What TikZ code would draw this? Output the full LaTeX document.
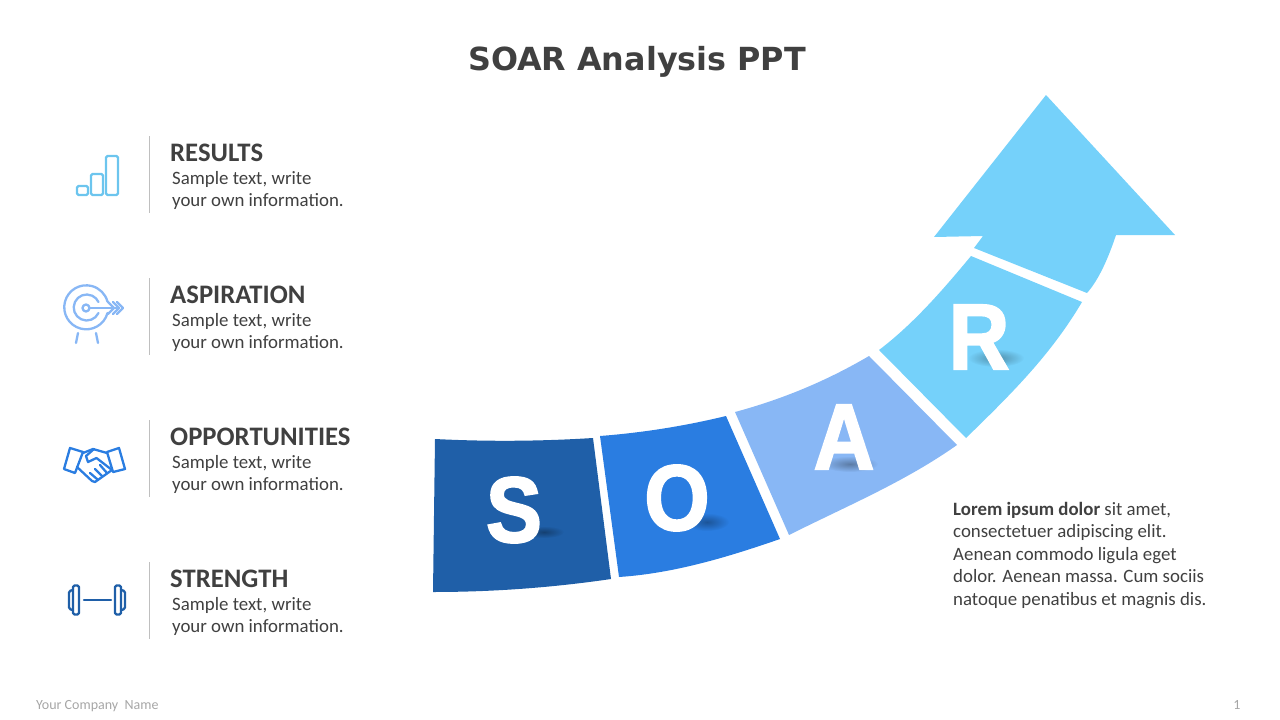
\documentclass[tikz,border=0pt]{standalone}
\usepackage{fontspec}
\setmainfont{Carlito}
\newfontfamily\titlefont{DejaVu Sans}
\newfontfamily\letterfont[FakeStretch=0.9,BoldFeatures={FakeStretch=0.9,FakeBold=2.2}]{Liberation Sans}
\usetikzlibrary{fadings}
\definecolor{inkgray}{HTML}{404040}
\definecolor{rulegray}{HTML}{BFBFBF}
\definecolor{footgray}{HTML}{A6A6A6}
\definecolor{sblue}{HTML}{1F5FA8}
\definecolor{oblue}{HTML}{2A7DE1}
\definecolor{ablue}{HTML}{88B7F5}
\definecolor{rblue}{HTML}{75D1FA}
\definecolor{barblue}{HTML}{6CC5EE}
\tikzfading[name=letterfade,inner color=transparent!68,outer color=transparent!100]
\tikzset{
  headtext/.style={anchor=base west,inner sep=0pt,text=inkgray,font=\fontsize{26.7}{26.7}\selectfont\bfseries},
  bodytext/.style={anchor=base west,inner sep=0pt,text=inkgray,align=left,font=\fontsize{18.85}{22.5}\selectfont},
  bigletter/.style={anchor=base,inner sep=0pt,text=white,font=\fontsize{93}{93}\letterfont\bfseries},
  foottext/.style={inner sep=0pt,text=footgray,font=\fontsize{14}{14}\selectfont},
  iconline/.style={line width=2.3pt,line cap=round,line join=round},
  lettershadow/.style={fill=black,path fading=letterfade}
}
\begin{document}
\begin{tikzpicture}[x=1pt,y=-1pt]
  \useasboundingbox (0,0) rectangle (1280,720);
  \draw (637,70) node (title) [anchor=base,inner sep=0pt,text=inkgray,font=\fontsize{31.8}{31.8}\titlefont\bfseries] {SOAR Analysis PPT};
  % left column
  \foreach \n/\y/\head in {1/136/RESULTS,2/278/ASPIRATION,3/420/OPPORTUNITIES,4/562/STRENGTH} {
    \draw[rulegray,line width=0.8pt] (149.5,\y)--++(0,76.5);
    \draw (170,\y+25) node (head\n) [headtext] {\head};
    \draw (172,\y+70.6) node (body\n) [bodytext] {Sample text, write\\your own information.};
  }
  % results icon
  \draw[barblue,iconline,rounded corners=1.5pt] (77,186) rectangle (88,195);
  \draw[barblue,iconline,rounded corners=1.5pt] (91,174) rectangle (103,195);
  \draw[barblue,iconline,rounded corners=1.5pt] (106,156) rectangle (118,195);
  % aspiration icon
  \draw[ablue,iconline] (107.5,313) arc (15:345:22);
  \draw[ablue,iconline] (98.5,313) arc (25:335:13);
  \draw[ablue,iconline] (86,308) circle (3.5);
  \draw[ablue,iconline] (89,308)--(119,308);
  \foreach \x in {108,113,117}
    \draw[ablue,iconline] (\x,302)--(\x+6,308)--(\x,314);
  \draw[ablue,iconline] (78,333)--(76,343);
  \draw[ablue,iconline] (96,333)--(98,343);
  % opportunities icon
  \draw[oblue,iconline] (70,448)--(83,452)--(75,473)--(64,469)--cycle;
  \draw[oblue,iconline] (119,448)--(107,452)--(113,472)--(125,469)--cycle;
  \draw[oblue,iconline] (83,453)--(93,449)--(100,451)--(107,453);
  \draw[oblue,iconline] (94,449)--(86,456)--(88,462)--(96.5,458)--(112,470);
  \draw[oblue,iconline] (77,467)--(92,481)--(95,482)--(112,470);
  \draw[oblue,iconline] (90,473)--(97,479);
  \draw[oblue,iconline] (95,469)--(102,476);
  \draw[oblue,iconline] (100,465)--(107,473);
  % strength icon
  \draw[sblue,iconline] (84,600)--(111,600);
  \draw[sblue,iconline,rounded corners=1.5pt] (73,585.5) rectangle (79,614.5);
  \draw[sblue,iconline,rounded corners=1.5pt] (73,590) -- (69,591) -- (69,609) -- (73,610);
  \draw[sblue,iconline,rounded corners=1.5pt] (115,585.5) rectangle (121,614.5);
  \draw[sblue,iconline,rounded corners=1.5pt] (121,590) -- (125,591) -- (125,609) -- (121,610);
  % curved arrow
  \fill[sblue] (435,439) .. controls (487.7,441.7) and (540.3,441.3) .. (593,438) -- (611,579) .. controls (551.7,587.7) and (492.3,592) .. (433,592) -- cycle;
  \fill[oblue] (600,436) .. controls (642.7,432.7) and (684.7,426) .. (726,416) -- (780,539) .. controls (728,557) and (674.3,573.3) .. (619,577) -- cycle;
  \fill[ablue] (735,412) .. controls (782.3,399.3) and (827,380.7) .. (869,356) -- (957,445) .. controls (905,481.7) and (849,505) .. (789,535) -- cycle;
  \fill[rblue] (879,350) .. controls (914.3,323.3) and (945,287.3) .. (971,256) -- (1082,302) .. controls (1051.3,354) and (1012.7,392.7) .. (966,438) -- cycle;
  \fill[rblue] (974,248) -- (983,236) -- (934,237) -- (1046,95) -- (1175,235) -- (1116,235) .. controls (1108.7,257) and (1099,279.7) .. (1087,293) -- cycle;
  % letters
  \fill[lettershadow] (544,532) ellipse (20 and 6);
  \fill[lettershadow] (707,522) ellipse (22 and 9);
  \fill[lettershadow] (850,464) ellipse (28 and 8);
  \fill[lettershadow] (996,358) ellipse (28 and 9);
  \draw (514,542) node (letterS) [bigletter] {S};
  \draw (677,530) node (letterO) [bigletter] {O};
  \draw (844,469) node (letterA) [bigletter] {A};
  \draw (979,369) node (letterR) [bigletter] {R};
  % paragraph
  \draw (953,605) node (para) [bodytext] {\textbf{Lorem ipsum dolor} sit amet,\\consectetuer adipiscing elit.\\Aenean commodo ligula eget\\dolor. Aenean massa. Cum sociis\\natoque penatibus et magnis dis.};
  % footer
  \draw (36,709) node (company) [anchor=base west,foottext] {Your Company\ \ Name};
  \draw (1237,709) node (pagenum) [anchor=base,foottext] {1};
\end{tikzpicture}
\end{document}
